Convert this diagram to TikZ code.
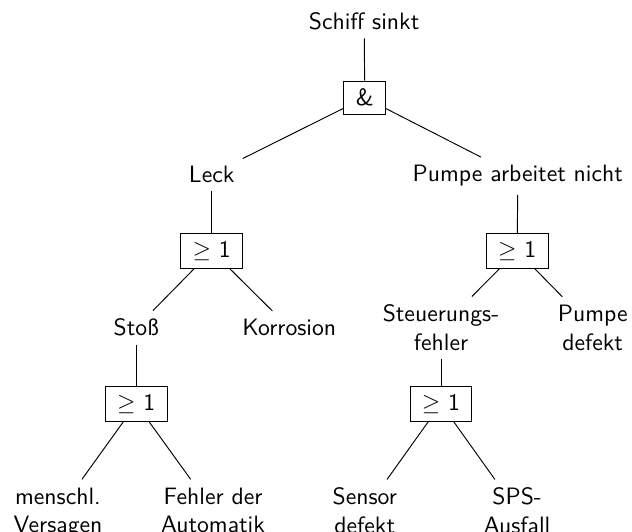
\documentclass[tikz,border=0pt]{standalone}
\usepackage{tikz}
\usetikzlibrary{positioning}

\begin{document}
\begin{tikzpicture}[
    font=\sffamily,
    event/.style={align=center},
    gate/.style={rectangle, draw, inner xsep=5pt},
    leaf/.style={align=center, anchor=north},
    link/.style={thin},
]
    \useasboundingbox (0,0) rectangle (9.373,7.890);
    % top event and first gate
    \node[event] (top) at (5.40,7.58) {Schiff sinkt};
    \node[gate] (and) at (5.41,6.44) {\&};
    \node[event] (leck) at (3.14,5.31) {Leck};
    \node[event] (pumpe) at (7.68,5.28) {Pumpe arbeitet nicht};
    % left branch
    \node[gate] (orL) at (3.14,4.17) {$\geq$ 1};
    \node[event] (stoss) at (2.02,3.03) {Sto\ss};
    \node[event] (korr) at (4.29,3.03) {Korrosion};
    \node[gate] (orS) at (2.02,1.90) {$\geq$ 1};
    \node[leaf] (mensch) at (0.86,0.78) {menschl.\\Versagen};
    \node[leaf] (auto) at (3.16,0.78) {Fehler der\\Automatik};
    % right branch
    \node[gate] (orR) at (7.67,4.17) {$\geq$ 1};
    \node[event] (steu) at (6.54,3.03) {Steuerungs-\\fehler};
    \node[event] (pdef) at (8.79,3.03) {Pumpe\\defekt};
    \node[gate] (orT) at (6.54,1.90) {$\geq$ 1};
    \node[leaf] (sensor) at (5.41,0.78) {Sensor\\defekt};
    \node[leaf] (sps) at (7.67,0.78) {SPS-\\Ausfall};

    \draw[link] (top) -- (and);
    \draw[link] (and) -- (leck);
    \draw[link] (and) -- (pumpe);
    \draw[link] (leck) -- (orL);
    \draw[link] (orL) -- (stoss);
    \draw[link] (orL) -- (korr);
    \draw[link] (stoss) -- (orS);
    \draw[link] (orS) -- (mensch);
    \draw[link] (orS) -- (auto);
    \draw[link] (pumpe) -- (orR);
    \draw[link] (orR) -- (steu);
    \draw[link] (orR) -- (pdef);
    \draw[link] (steu) -- (orT);
    \draw[link] (orT) -- (sensor);
    \draw[link] (orT) -- (sps);
\end{tikzpicture}
\end{document}
